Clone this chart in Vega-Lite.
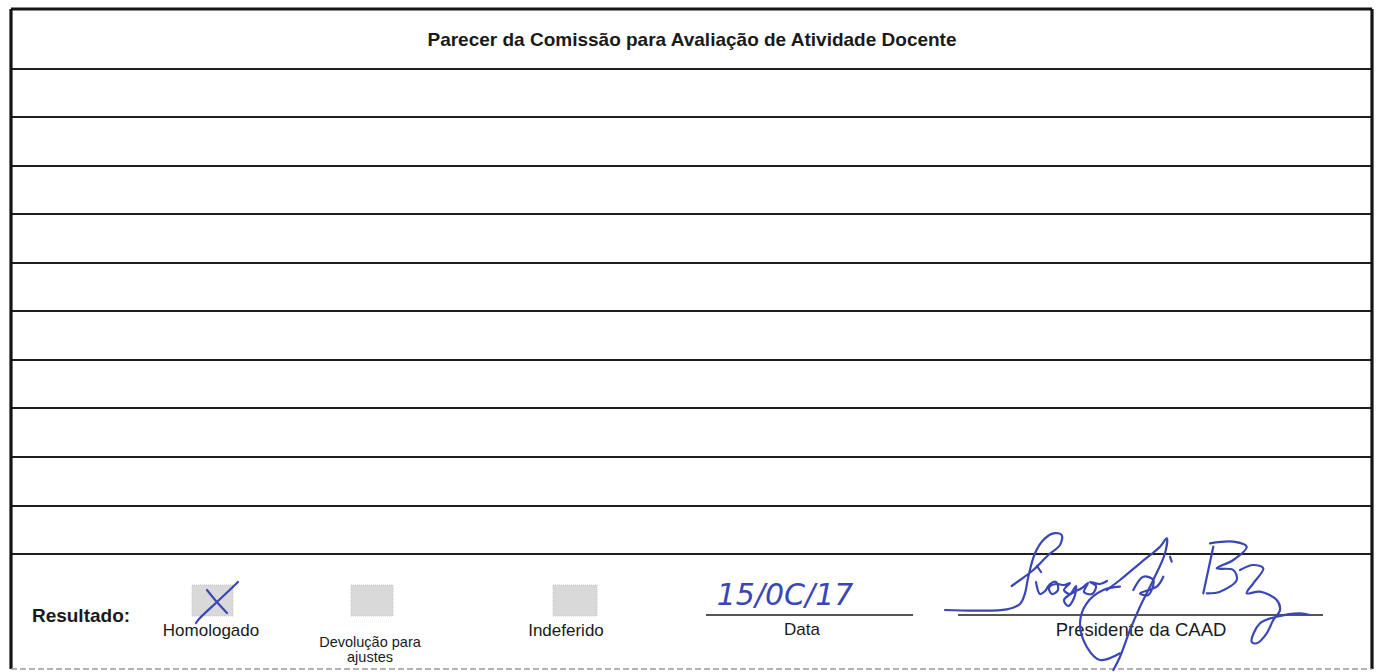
{
  "$schema": "https://vega.github.io/schema/vega-lite/v6.json",
  "width": 1377,
  "height": 672,
  "padding": 0,
  "autosize": {"type": "none"},
  "background": "white",
  "config": {"view": {"stroke": null}, "font": "Liberation Sans"},
  "datasets": {
    "frame": [
      {"x": 11, "x2": 11, "y": 9, "y2": 669},
      {"x": 11, "x2": 1372, "y": 9, "y2": 9},
      {"x": 1372, "x2": 1372, "y": 9, "y2": 669}
    ],
    "bottom": [
      {"x": 11, "x2": 1372, "y": 669, "y2": 669}
    ],
    "rows": [
      {"x": 11, "x2": 1372, "y": 69, "y2": 69},
      {"x": 11, "x2": 1372, "y": 117, "y2": 117},
      {"x": 11, "x2": 1372, "y": 166, "y2": 166},
      {"x": 11, "x2": 1372, "y": 214, "y2": 214},
      {"x": 11, "x2": 1372, "y": 263, "y2": 263},
      {"x": 11, "x2": 1372, "y": 311, "y2": 311},
      {"x": 11, "x2": 1372, "y": 360, "y2": 360},
      {"x": 11, "x2": 1372, "y": 408, "y2": 408},
      {"x": 11, "x2": 1372, "y": 457, "y2": 457},
      {"x": 11, "x2": 1372, "y": 506, "y2": 506},
      {"x": 11, "x2": 1372, "y": 554, "y2": 554}
    ],
    "signlines": [
      {"x": 706, "x2": 913, "y": 615, "y2": 615},
      {"x": 958, "x2": 1323, "y": 615, "y2": 615}
    ],
    "boxes": [
      {"box": "Homologado", "x": 192, "x2": 233, "y": 585, "y2": 616},
      {"box": "Devolução para ajustes", "x": 351, "x2": 393, "y": 585, "y2": 616},
      {"box": "Indeferido", "x": 553, "x2": 597, "y": 585, "y2": 616}
    ],
    "texts": [
      {"kind": "bold", "label": "Parecer da Comissão para Avaliação de Atividade Docente", "x": 692, "y": 40},
      {"kind": "bold", "label": "Resultado:", "x": 81, "y": 616},
      {"kind": "normal", "label": "Homologado", "x": 211, "y": 631},
      {"kind": "small", "label": "Devolução para", "x": 370, "y": 643},
      {"kind": "small", "label": "ajustes", "x": 370, "y": 658},
      {"kind": "normal", "label": "Indeferido", "x": 566, "y": 631},
      {"kind": "normal", "label": "Data", "x": 802, "y": 630},
      {"kind": "big", "label": "Presidente da CAAD", "x": 1141, "y": 630},
      {"kind": "hand", "label": "15/0C/17", "x": 785, "y": 596}
    ],
    "ink": [
      {"stroke": "x1", "o": 1, "x": 238, "y": 582},
      {"stroke": "x1", "o": 2, "x": 218, "y": 601},
      {"stroke": "x1", "o": 3, "x": 199, "y": 619},
      {"stroke": "x1", "o": 4, "x": 196, "y": 623},
      {"stroke": "x2", "o": 1, "x": 207, "y": 590},
      {"stroke": "x2", "o": 2, "x": 216, "y": 601},
      {"stroke": "x2", "o": 3, "x": 227, "y": 613},

      {"stroke": "A", "o": 1, "x": 945, "y": 610},
      {"stroke": "A", "o": 2, "x": 977, "y": 610.7},
      {"stroke": "A", "o": 3, "x": 1006.7, "y": 609.3},
      {"stroke": "A", "o": 4, "x": 1020, "y": 604},
      {"stroke": "A", "o": 5, "x": 1025, "y": 593.3},
      {"stroke": "A", "o": 6, "x": 1028.3, "y": 576.7},
      {"stroke": "A", "o": 7, "x": 1035, "y": 553.3},
      {"stroke": "A", "o": 8, "x": 1043.3, "y": 540},
      {"stroke": "A", "o": 9, "x": 1053.3, "y": 533.3},
      {"stroke": "A", "o": 10, "x": 1061.7, "y": 535},
      {"stroke": "A", "o": 11, "x": 1060, "y": 545},
      {"stroke": "A", "o": 12, "x": 1048.3, "y": 555},
      {"stroke": "A", "o": 13, "x": 1033.3, "y": 570},
      {"stroke": "A", "o": 14, "x": 1020, "y": 580},
      {"stroke": "A", "o": 15, "x": 1011.7, "y": 586},

      {"stroke": "Bi", "o": 1, "x": 1036, "y": 582},
      {"stroke": "Bi", "o": 2, "x": 1040, "y": 594},
      {"stroke": "Bi", "o": 3, "x": 1046, "y": 590},
      {"stroke": "Bt", "o": 1, "x": 1037, "y": 566},
      {"stroke": "Bt", "o": 2, "x": 1041, "y": 572},
      {"stroke": "B", "o": 1, "x": 1046, "y": 590},
      {"stroke": "B", "o": 2, "x": 1050, "y": 584},
      {"stroke": "B", "o": 3, "x": 1056, "y": 582},
      {"stroke": "B", "o": 4, "x": 1058, "y": 590},
      {"stroke": "B", "o": 5, "x": 1052, "y": 594},
      {"stroke": "B", "o": 6, "x": 1049, "y": 588},
      {"stroke": "B", "o": 7, "x": 1056, "y": 584},
      {"stroke": "B", "o": 8, "x": 1064, "y": 585},
      {"stroke": "B", "o": 9, "x": 1070, "y": 583},
      {"stroke": "B", "o": 10, "x": 1064, "y": 590},
      {"stroke": "B", "o": 11, "x": 1070, "y": 594},
      {"stroke": "B", "o": 12, "x": 1076, "y": 586},
      {"stroke": "B", "o": 13, "x": 1074, "y": 598},
      {"stroke": "B", "o": 14, "x": 1068, "y": 606},
      {"stroke": "B", "o": 15, "x": 1064, "y": 600},
      {"stroke": "B", "o": 16, "x": 1074, "y": 592},
      {"stroke": "B", "o": 17, "x": 1082, "y": 588},
      {"stroke": "B", "o": 18, "x": 1088, "y": 583},
      {"stroke": "B", "o": 19, "x": 1084, "y": 592},
      {"stroke": "B", "o": 20, "x": 1092, "y": 594},
      {"stroke": "B", "o": 21, "x": 1096, "y": 586},
      {"stroke": "B", "o": 22, "x": 1090, "y": 582},
      {"stroke": "B", "o": 23, "x": 1100, "y": 584},
      {"stroke": "B", "o": 24, "x": 1107, "y": 581},

      {"stroke": "C", "o": 1, "x": 1106.7, "y": 590},
      {"stroke": "C", "o": 2, "x": 1120, "y": 580},
      {"stroke": "C", "o": 3, "x": 1140, "y": 563.3},
      {"stroke": "C", "o": 4, "x": 1160, "y": 546.7},
      {"stroke": "C", "o": 5, "x": 1166.7, "y": 538.3},
      {"stroke": "C", "o": 6, "x": 1165, "y": 553.3},
      {"stroke": "C", "o": 7, "x": 1153.3, "y": 580},
      {"stroke": "C", "o": 8, "x": 1140, "y": 606.7},
      {"stroke": "C", "o": 9, "x": 1130, "y": 630},
      {"stroke": "C", "o": 10, "x": 1120, "y": 656.7},
      {"stroke": "C", "o": 11, "x": 1113.3, "y": 670},

      {"stroke": "C2", "o": 1, "x": 1120, "y": 653.3},
      {"stroke": "C2", "o": 2, "x": 1100, "y": 660},
      {"stroke": "C2", "o": 3, "x": 1086.7, "y": 646.7},
      {"stroke": "C2", "o": 4, "x": 1080, "y": 623.3},
      {"stroke": "C2", "o": 5, "x": 1086.7, "y": 603.3},
      {"stroke": "C2", "o": 6, "x": 1103.3, "y": 590},
      {"stroke": "C2", "o": 7, "x": 1120, "y": 586.7},

      {"stroke": "D", "o": 1, "x": 1133.3, "y": 590},
      {"stroke": "D", "o": 2, "x": 1143.3, "y": 576.7},
      {"stroke": "D", "o": 3, "x": 1153.3, "y": 580},
      {"stroke": "D", "o": 4, "x": 1148.3, "y": 595},
      {"stroke": "D", "o": 5, "x": 1140, "y": 593.3},
      {"stroke": "D", "o": 6, "x": 1156.7, "y": 586.7},
      {"stroke": "D", "o": 7, "x": 1163.3, "y": 576.7},
      {"stroke": "D2", "o": 1, "x": 1170, "y": 556.7},
      {"stroke": "D2", "o": 2, "x": 1171.7, "y": 561.7},

      {"stroke": "E", "o": 1, "x": 1213.3, "y": 546.7},
      {"stroke": "E", "o": 2, "x": 1208.3, "y": 570},
      {"stroke": "E", "o": 3, "x": 1203.3, "y": 593.3},
      {"stroke": "E2", "o": 1, "x": 1210, "y": 543.3},
      {"stroke": "E2", "o": 2, "x": 1233.3, "y": 541.7},
      {"stroke": "E2", "o": 3, "x": 1246.7, "y": 546.7},
      {"stroke": "E2", "o": 4, "x": 1233.3, "y": 560},
      {"stroke": "E2", "o": 5, "x": 1216.7, "y": 568.3},
      {"stroke": "E2", "o": 6, "x": 1233.3, "y": 570},
      {"stroke": "E2", "o": 7, "x": 1236.7, "y": 580},
      {"stroke": "E2", "o": 8, "x": 1220, "y": 591.7},
      {"stroke": "E2", "o": 9, "x": 1206.7, "y": 593.3},

      {"stroke": "F", "o": 1, "x": 1240, "y": 570},
      {"stroke": "F", "o": 2, "x": 1253.3, "y": 565},
      {"stroke": "F", "o": 3, "x": 1263.3, "y": 568.3},
      {"stroke": "F", "o": 4, "x": 1253.3, "y": 583.3},
      {"stroke": "F", "o": 5, "x": 1246.7, "y": 593.3},
      {"stroke": "F", "o": 6, "x": 1260, "y": 591.7},
      {"stroke": "F", "o": 7, "x": 1276.7, "y": 600},
      {"stroke": "F", "o": 8, "x": 1280, "y": 610},
      {"stroke": "F", "o": 9, "x": 1273.3, "y": 620},
      {"stroke": "F", "o": 10, "x": 1266.7, "y": 633.3},
      {"stroke": "F", "o": 11, "x": 1256.7, "y": 643.3},
      {"stroke": "F", "o": 12, "x": 1251.7, "y": 641.7},
      {"stroke": "F", "o": 13, "x": 1260, "y": 623.3},
      {"stroke": "F", "o": 14, "x": 1276.7, "y": 616.7},
      {"stroke": "F", "o": 15, "x": 1300, "y": 613.3},
      {"stroke": "F", "o": 16, "x": 1310, "y": 615}
    ]
  },
  "encoding": {
    "x": {"field": "x", "type": "quantitative", "scale": {"domain": [0, 1377], "nice": false, "zero": false}, "axis": null},
    "y": {"field": "y", "type": "quantitative", "scale": {"domain": [0, 672], "nice": false, "zero": false, "reverse": true}, "axis": null}
  },
  "layer": [
    {
      "data": {"name": "boxes"},
      "mark": {"type": "rect", "fill": "#d9d9d9", "stroke": "#c6c6c6", "strokeWidth": 1, "strokeDash": [1, 1]},
      "encoding": {"x2": {"field": "x2"}, "y2": {"field": "y2"}}
    },
    {
      "data": {"name": "rows"},
      "mark": {"type": "rule", "stroke": "#1e1e1e", "strokeWidth": 2},
      "encoding": {"x2": {"field": "x2"}, "y2": {"field": "y2"}}
    },
    {
      "data": {"name": "signlines"},
      "mark": {"type": "rule", "stroke": "#1e1e1e", "strokeWidth": 1.6},
      "encoding": {"x2": {"field": "x2"}, "y2": {"field": "y2"}}
    },
    {
      "data": {"name": "frame"},
      "mark": {"type": "rule", "stroke": "#141414", "strokeWidth": 3.2},
      "encoding": {"x2": {"field": "x2"}, "y2": {"field": "y2"}}
    },
    {
      "data": {"name": "bottom"},
      "mark": {"type": "rule", "stroke": "#9a9a9a", "strokeWidth": 1.5, "strokeDash": [6, 3]},
      "encoding": {"x2": {"field": "x2"}, "y2": {"field": "y2"}}
    },
    {
      "data": {"name": "texts"},
      "transform": [{"filter": "datum.kind === 'bold'"}],
      "mark": {"type": "text", "font": "Liberation Sans", "fontWeight": "bold", "fontSize": 19, "fill": "#1a1a1a", "align": "center", "baseline": "middle"},
      "encoding": {"text": {"field": "label"}}
    },
    {
      "data": {"name": "texts"},
      "transform": [{"filter": "datum.kind === 'normal'"}],
      "mark": {"type": "text", "font": "Liberation Sans", "fontSize": 17, "fill": "#1a1a1a", "align": "center", "baseline": "middle"},
      "encoding": {"text": {"field": "label"}}
    },
    {
      "data": {"name": "texts"},
      "transform": [{"filter": "datum.kind === 'big'"}],
      "mark": {"type": "text", "font": "Liberation Sans", "fontSize": 18.5, "fill": "#1a1a1a", "align": "center", "baseline": "middle"},
      "encoding": {"text": {"field": "label"}}
    },
    {
      "data": {"name": "texts"},
      "transform": [{"filter": "datum.kind === 'small'"}],
      "mark": {"type": "text", "font": "Liberation Sans", "fontSize": 14.5, "fill": "#1a1a1a", "align": "center", "baseline": "middle"},
      "encoding": {"text": {"field": "label"}}
    },
    {
      "data": {"name": "texts"},
      "transform": [{"filter": "datum.kind === 'hand'"}],
      "mark": {"type": "text", "font": "DejaVu Sans", "fontStyle": "italic", "fontWeight": 300, "fontSize": 30, "fill": "#3b46b5", "align": "center", "baseline": "middle"},
      "encoding": {"text": {"field": "label"}}
    },
    {
      "data": {"name": "ink"},
      "mark": {"type": "line", "stroke": "#3b46b5", "strokeWidth": 2.2, "interpolate": "catmull-rom", "strokeCap": "round", "strokeJoin": "round"},
      "encoding": {"detail": {"field": "stroke"}, "order": {"field": "o", "type": "quantitative"}}
    }
  ]
}
